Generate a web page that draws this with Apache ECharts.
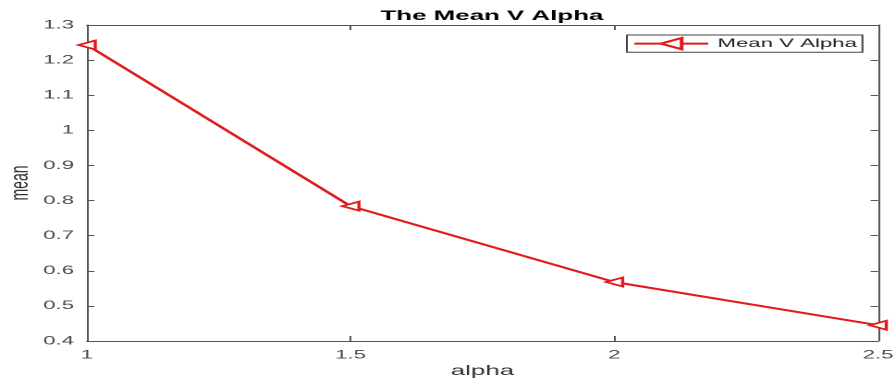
<!DOCTYPE html>
<html><head><meta charset="utf-8">
<script src="https://cdn.jsdelivr.net/npm/echarts@6/dist/echarts.min.js"></script>
<style>
html,body{margin:0;padding:0;background:#fff;overflow:hidden}
#wrap{width:895px;height:383px;overflow:hidden}
#c{width:484px;height:383px;transform:scaleX(1.8492);transform-origin:0 0}
</style>
</head><body><div id="wrap"><div id="c"></div></div>
<script>
const alphaValues = [1, 1.5, 2, 2.5];
const meanValues = [1.243, 0.784, 0.568, 0.445];
const seriesName = 'Mean V Alpha';
const chart = echarts.init(document.getElementById('c'), null, {renderer: 'canvas', devicePixelRatio: 2});
const axisCol = '#555555';
const labelCol = '#4a4a4a';
const fontF = 'Liberation Sans, Arial, sans-serif';
const red = '#e31a1c';
const xBase = {
  type: 'value', min: 1, max: 2.5, interval: 0.5,
  axisLine: {show: true, lineStyle: {color: axisCol, width: 1}},
  axisTick: {show: true, inside: true, length: 5, lineStyle: {color: axisCol}},
  splitLine: {show: false}
};
const yBase = {
  type: 'value', min: 0.4, max: 1.3, interval: 0.1,
  axisLine: {show: true, lineStyle: {color: axisCol, width: 1}},
  axisTick: {show: true, inside: true, length: 4, lineStyle: {color: axisCol}},
  splitLine: {show: false}
};
chart.setOption({
  animation: false,
  backgroundColor: '#fff',
  title: {text: 'The Mean V Alpha', left: 261, top: 4, textAlign: 'center',
    textStyle: {fontFamily: fontF, fontSize: 14, fontWeight: 'bold', color: '#000'}},
  grid: {left: 47, right: 9.2, top: 25, bottom: 42, containLabel: false, outerBoundsMode: 'none'},
  legend: {
    show: true, left: 339, top: 35, orient: 'horizontal',
    backgroundColor: '#fff', borderColor: '#444', borderWidth: 1,
    padding: [2, 3, 2, 3], itemWidth: 40, itemHeight: 14, itemGap: 4,
    textStyle: {fontFamily: fontF, fontSize: 12, color: '#222'},
    data: [seriesName]
  },
  xAxis: [
    Object.assign({}, xBase, {
      position: 'bottom', name: 'alpha', nameLocation: 'middle', nameGap: 23,
      nameMoveOverlap: false,
      nameTextStyle: {fontFamily: fontF, fontSize: 14, color: '#333'},
      axisLabel: {fontFamily: fontF, fontSize: 12, color: labelCol, margin: 8,
        formatter: v => String(v)}
    }),
    Object.assign({}, xBase, {position: 'top', axisLabel: {show: false}})
  ],
  yAxis: [
    Object.assign({}, yBase, {
      position: 'left', name: 'mean', nameLocation: 'middle', nameGap: 29,
      nameMoveOverlap: false,
      nameTextStyle: {fontFamily: fontF, fontSize: 14, color: '#333'},
      axisLabel: {fontFamily: fontF, fontSize: 12, color: labelCol, margin: 7,
        formatter: v => String(Math.round(v * 10) / 10)}
    }),
    Object.assign({}, yBase, {position: 'right', axisLabel: {show: false}})
  ],
  series: [{
    name: seriesName, type: 'line',
    xAxisIndex: 0, yAxisIndex: 0,
    data: alphaValues.map((a, i) => [a, meanValues[i]]),
    lineStyle: {color: red, width: 2},
    itemStyle: {color: '#fff', borderColor: red, borderWidth: 1.7},
    symbol: 'triangle', symbolRotate: 90, symbolSize: [9, 9],
    showAllSymbol: true, clip: false
  }]
});
</script></body></html>
